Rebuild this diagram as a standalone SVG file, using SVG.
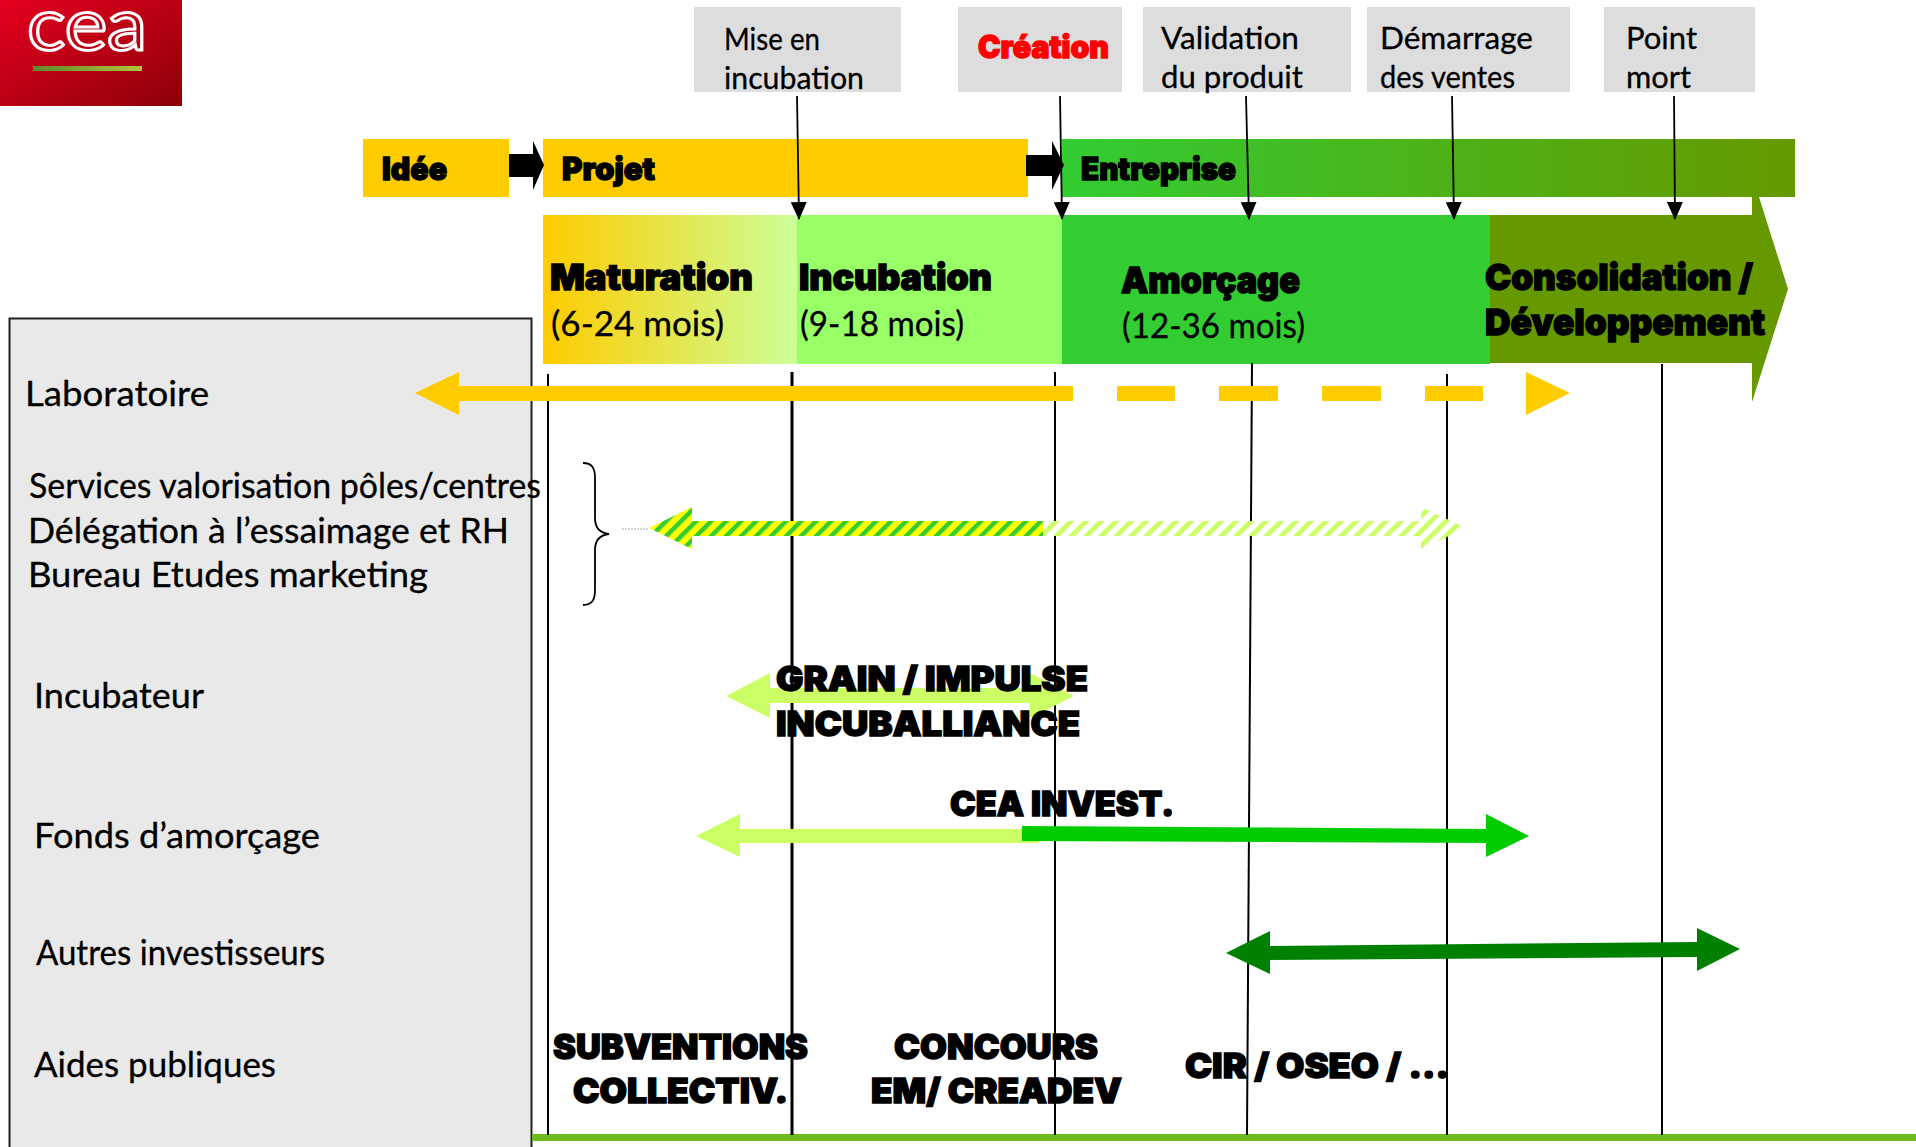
<svg xmlns="http://www.w3.org/2000/svg" width="1916" height="1147" viewBox="0 0 1916 1147">
<style>
.h{font-family:"Inter","Roboto","Liberation Sans",sans-serif;font-weight:900;fill:#000;stroke:#000;stroke-width:1.4px;font-size:31px}
.s{font-size:36px}
.f{font-size:34px}
.r{font-family:"Lato","Noto Sans","Liberation Sans",sans-serif;fill:#000;stroke:#000;stroke-width:.3px;font-size:34px}
.t{font-size:31px}
.g{fill:#dddddd}
.v{stroke:#000;stroke-width:2;fill:none}
.p{stroke:#000;stroke-width:1.8;fill:none;marker-end:url(#ah)}
</style>
<defs>
<marker id="ah" markerUnits="userSpaceOnUse" markerWidth="18" markerHeight="16" refX="17" refY="8" orient="auto" viewBox="0 0 18 16"><path d="M0 0L18 8L0 16Z" fill="#000"/></marker>
<linearGradient id="lg" x1="0" y1="0" x2="1" y2="1"><stop offset="0" stop-color="#e6001f"/><stop offset="1" stop-color="#8c0008"/></linearGradient>
<linearGradient id="lb" x1="0" x2="1"><stop offset="0" stop-color="#5d8a2c"/><stop offset="1" stop-color="#b5c23a"/></linearGradient>
<linearGradient id="ent" x1="0" x2="1"><stop offset="0" stop-color="#33cc33"/><stop offset="1" stop-color="#669900"/></linearGradient>
<linearGradient id="mat" x1="0" x2="1"><stop offset="0" stop-color="#ffcc00"/><stop offset="1" stop-color="#ccff99"/></linearGradient>
<pattern id="st1" patternUnits="userSpaceOnUse" width="10.6" height="10.6" patternTransform="rotate(45)"><rect width="10.6" height="10.6" fill="#ffff00"/><rect width="4.4" height="10.6" fill="#33cc33"/></pattern>
<pattern id="st2" patternUnits="userSpaceOnUse" width="10.6" height="10.6" patternTransform="rotate(45)"><rect width="10.6" height="10.6" fill="#fff"/><rect width="4.8" height="10.6" fill="#ccff66"/></pattern>
</defs>
<rect width="1916" height="1147" fill="#fff"/>

<g id="logo">
<rect width="182" height="106" fill="url(#lg)"/>
<text x="27" y="50" font-family="Lato,Liberation Sans,sans-serif" font-size="74" fill="none" stroke="#fff" stroke-width="3" textLength="120" lengthAdjust="spacingAndGlyphs">cea</text>
<rect x="33" y="66" width="109" height="5" fill="url(#lb)"/>
</g>

<g id="panel"><rect x="9.5" y="318.5" width="522" height="840" fill="#e9e9e9" stroke="#222" stroke-width="2"/></g>
<g id="baseline"><rect x="532" y="1134" width="1384" height="7" fill="#6fbb1e"/></g>

<g id="phase-idee"><rect x="363" y="139" width="146" height="58" fill="#ffcc00"/><text class="h" x="382" y="180" textLength="65" lengthAdjust="spacingAndGlyphs">Idée</text></g>
<g id="phase-projet"><rect x="543" y="139" width="485" height="58" fill="#ffcc00"/><text class="h" x="562" y="180" textLength="93" lengthAdjust="spacingAndGlyphs">Projet</text></g>
<g id="phase-entreprise"><rect x="1062" y="139" width="733" height="58" fill="url(#ent)"/><text class="h" x="1081" y="180" textLength="155" lengthAdjust="spacingAndGlyphs">Entreprise</text></g>

<g id="stage-maturation"><rect x="543" y="215" width="254" height="149" fill="url(#mat)"/><text class="h s" x="550" y="290" textLength="203" lengthAdjust="spacingAndGlyphs">Maturation</text><text class="r" x="551" y="336" textLength="173" lengthAdjust="spacingAndGlyphs">(6-24 mois)</text></g>
<g id="stage-incubation"><rect x="797" y="215" width="265" height="149" fill="#99ff66"/><text class="h s" x="799" y="290" textLength="193" lengthAdjust="spacingAndGlyphs">Incubation</text><text class="r" x="800" y="336" textLength="164" lengthAdjust="spacingAndGlyphs">(9-18 mois)</text></g>
<g id="stage-amorcage"><rect x="1062" y="215" width="428" height="149" fill="#33cc33"/><text class="h s" x="1121" y="293" textLength="179" lengthAdjust="spacingAndGlyphs">Amorçage</text><text class="r" x="1122" y="338" textLength="183" lengthAdjust="spacingAndGlyphs">(12-36 mois)</text></g>
<g id="stage-consolidation"><path d="M1490 215H1752V197L1759 197L1788 289L1752 402V363H1490Z" fill="#669900"/><text class="h s" x="1485" y="290" textLength="268" lengthAdjust="spacingAndGlyphs">Consolidation /</text><text class="h s" x="1485" y="335" textLength="280" lengthAdjust="spacingAndGlyphs">Développement</text></g>

<g id="milestone-mise"><rect class="g" x="694" y="7" width="207" height="85"/><text class="r t" x="724" y="50" textLength="96" lengthAdjust="spacingAndGlyphs">Mise en</text><text class="r t" x="724" y="89" textLength="140" lengthAdjust="spacingAndGlyphs">incubation</text></g>
<g id="milestone-creation"><rect class="g" x="958" y="7" width="164" height="85"/><text class="h" x="978" y="58" style="fill:#ff0000;stroke:#ff0000" textLength="131" lengthAdjust="spacingAndGlyphs">Création</text></g>
<g id="milestone-validation"><rect class="g" x="1143" y="7" width="208" height="85"/><text class="r t" x="1161" y="49" textLength="138" lengthAdjust="spacingAndGlyphs">Validation</text><text class="r t" x="1161" y="88" textLength="142" lengthAdjust="spacingAndGlyphs">du produit</text></g>
<g id="milestone-demarrage"><rect class="g" x="1367" y="7" width="203" height="85"/><text class="r t" x="1380" y="49" textLength="153" lengthAdjust="spacingAndGlyphs">Démarrage</text><text class="r t" x="1380" y="88" textLength="135" lengthAdjust="spacingAndGlyphs">des ventes</text></g>
<g id="milestone-point"><rect class="g" x="1604" y="7" width="151" height="85"/><text class="r t" x="1626" y="49" textLength="71" lengthAdjust="spacingAndGlyphs">Point</text><text class="r t" x="1626" y="88" textLength="65" lengthAdjust="spacingAndGlyphs">mort</text></g>

<g id="row-labels">
<text class="r" x="25" y="406" textLength="184" lengthAdjust="spacingAndGlyphs">Laboratoire</text>
<text class="r" x="29" y="498" textLength="512" lengthAdjust="spacingAndGlyphs">Services valorisation pôles/centres</text>
<text class="r" x="28" y="543" textLength="481" lengthAdjust="spacingAndGlyphs">Délégation à l’essaimage et RH</text>
<text class="r" x="28" y="587" textLength="400" lengthAdjust="spacingAndGlyphs">Bureau Etudes marketing</text>
<text class="r" x="34" y="708" textLength="170" lengthAdjust="spacingAndGlyphs">Incubateur</text>
<text class="r" x="34" y="848" textLength="286" lengthAdjust="spacingAndGlyphs">Fonds d’amorçage</text>
<text class="r" x="36" y="965" textLength="289" lengthAdjust="spacingAndGlyphs">Autres investisseurs</text>
<text class="r" x="34" y="1077" textLength="242" lengthAdjust="spacingAndGlyphs">Aides publiques</text>
</g>

<g id="connectors">
<path d="M509 154H533V141L544 165L533 190V177H509Z" fill="#000"/>
<path d="M1026 155H1052V141L1064 165L1052 190V176H1026Z" fill="#000"/>
<path class="v" d="M548 374V1135"/>
<path class="v" style="stroke-width:3" d="M792 372V1135"/>
<path class="v" d="M1055 372V1135"/>
<path class="v" d="M1252 363L1247 1135"/>
<path class="v" d="M1447 374V1135"/>
<path class="v" d="M1662 364V1135"/>
<path class="p" d="M797 96L799 219"/>
<path class="p" d="M1060 96L1062 219"/>
<path class="p" d="M1246 96L1249 219"/>
<path class="p" d="M1452 96L1454 219"/>
<path class="p" d="M1674 96L1675 219"/>
<path d="M415 393L459 372V386H1073V401H459V415Z" fill="#ffcc00"/>
<path d="M1117 386h58v15h-58zM1219 386h59v15h-59zM1322 386h59v15h-59zM1425 386h58v15h-58zM1526 372L1570 393L1526 415Z" fill="#ffcc00"/>
<path d="M583 463C592 463 595 468 595 478V518C595 528 600 533 609 534C600 535 595 540 595 550V590C595 600 592 605 583 605" fill="none" stroke="#000" stroke-width="1.8"/>
<path d="M622 529H648" stroke="#aaa" stroke-width="1" stroke-dasharray="2 1"/>
<path d="M1043 521H1421V507L1466 528L1421 549V536H1043Z" fill="url(#st2)"/>
<path d="M649 528L692 507V521H1043V536H692V549Z" fill="url(#st1)"/>
<path d="M726 696L770 673V688H1030V673L1074 696L1030 718V703H770V718Z" fill="#ccff66"/>
<path d="M696 836L740 814V829H1039V843H740V857Z" fill="#ccff66"/>
<path d="M1022 826L1486 829V814L1529 836L1486 857V843L1022 841Z" fill="#00cc00"/>
<path d="M1226 953L1270 931V946L1697 942V928L1740 949L1697 971V957L1270 960V974Z" fill="#008000"/>
</g>

<g id="funding-labels">
<text class="h f" x="776" y="691" textLength="312" lengthAdjust="spacingAndGlyphs">GRAIN / IMPULSE</text>
<text class="h f" x="776" y="736" textLength="304" lengthAdjust="spacingAndGlyphs">INCUBALLIANCE</text>
<text class="h f" x="950" y="816" textLength="224" lengthAdjust="spacingAndGlyphs">CEA INVEST.</text>
<text class="h f" x="553" y="1059" textLength="255" lengthAdjust="spacingAndGlyphs">SUBVENTIONS</text>
<text class="h f" x="573" y="1103" textLength="215" lengthAdjust="spacingAndGlyphs">COLLECTIV.</text>
<text class="h f" x="894" y="1059" textLength="204" lengthAdjust="spacingAndGlyphs">CONCOURS</text>
<text class="h f" x="871" y="1103" textLength="251" lengthAdjust="spacingAndGlyphs">EM/ CREADEV</text>
<text class="h f" x="1185" y="1078" textLength="264" lengthAdjust="spacingAndGlyphs">CIR / OSEO / ...</text>
</g>
</svg>
